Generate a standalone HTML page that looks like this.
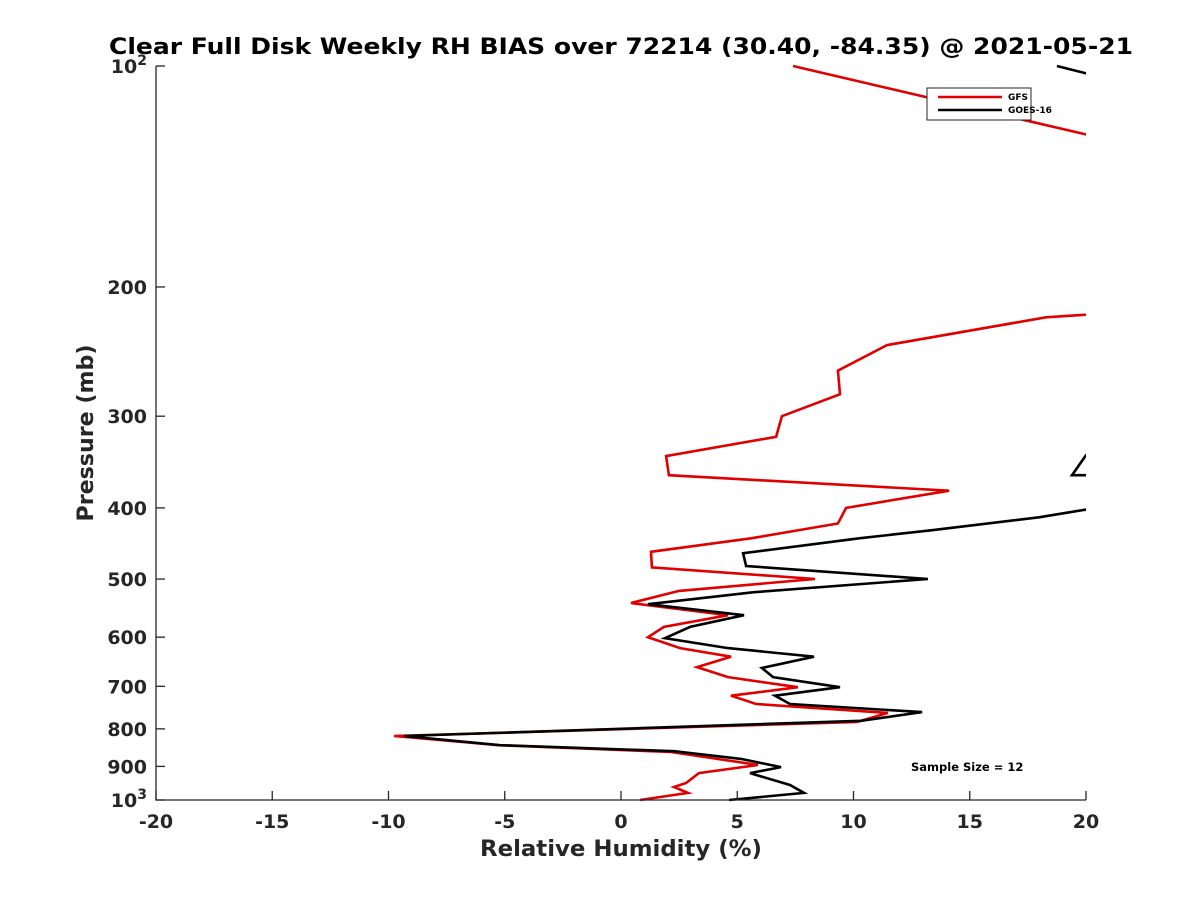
<!DOCTYPE html>
<html><head><meta charset="utf-8"><style>
body{margin:0;background:#fff;}
svg{display:block;font-family:"DejaVu Sans","Liberation Sans",sans-serif;}
</style></head><body>
<svg id="chart" width="1200" height="900" viewBox="0 0 1200 900">
<rect width="1200" height="900" fill="#fff"/>
<text x="621" y="54" text-anchor="middle" font-size="22" font-weight="bold" fill="#000" textLength="1024" lengthAdjust="spacingAndGlyphs">Clear Full Disk Weekly RH BIAS over 72214 (30.40, -84.35) @ 2021-05-21</text>
<defs><clipPath id="clip"><rect x="156" y="62" width="930" height="742"/></clipPath></defs>
<g id="series" clip-path="url(#clip)"></g>
<g id="axes"></g>
<text x="621" y="856" text-anchor="middle" font-size="22" font-weight="bold" fill="#262626" textLength="282" lengthAdjust="spacingAndGlyphs">Relative Humidity (%)</text>
<text transform="translate(93,433) rotate(-90)" text-anchor="middle" font-size="22" font-weight="bold" fill="#262626" textLength="177" lengthAdjust="spacingAndGlyphs">Pressure (mb)</text>
<g>
<rect x="927" y="88" width="104" height="32" fill="#fff" stroke="#262626" stroke-width="1"/>
<line x1="938" y1="97" x2="1002" y2="97" stroke="#e00000" stroke-width="2.5"/>
<text x="1008" y="100" font-size="9" font-weight="bold" fill="#000">GFS</text>
<line x1="938" y1="110" x2="1002" y2="110" stroke="#000" stroke-width="2.5"/>
<text x="1008" y="113" font-size="9" font-weight="bold" fill="#000">GOES-16</text>
</g>
<text x="911" y="771" font-size="11.5" font-weight="bold" fill="#000">Sample Size = 12</text>
</svg>
<script>
const gfsRH = [7.40,30,30,24,18.28,11.44,9.33,9.42,6.92,6.67,1.94,2.06,14.11,9.68,9.33,5.59,1.29,1.33,8.34,2.49,0.43,4.60,1.85,1.16,2.54,4.73,3.27,4.60,7.61,4.73,5.81,11.48,10.15,-9.76,-5.25,2.11,5.08,5.89,3.35,2.80,2.28,2.88,0.82];
const gfsP  = [100,147,205,214,220,240,260,280,300,320,340,361,379,400,420,440,459,482,500,519,539,560,581,600,621,638,659,680,702,721,740,761,783,818,842,860,888,896,919,948,960,978,1000];
const goesRH = [18.75,30,30,20,19.4,22,30,20,17.98,13.38,10.24,5.25,5.38,13.2,5.72,1.16,5.29,2.97,1.89,4.60,8.30,6.06,6.54,9.42,6.62,7.27,12.95,10.32,-9.33,-5.2,2.28,5.16,6.88,5.55,7.27,7.87,4.65];
const goesP  = [100,123,330,339,361,361,380,402,412,429,440,461,480,500,521,541,560,581,602,621,638,661,680,702,721,740,759,780,818,842,858,879,902,919,954,978,1000];
const xTicks = [-20,-15,-10,-5,0,5,10,15,20];
const yTicks = [100,200,300,400,500,600,700,800,900,1000];
const yTickLabels = ["10^2","200","300","400","500","600","700","800","900","10^3"];

const X0=156,X1=1086,Y0=66,Y1=800;
const xs = v => X0 + (v+20)/40*(X1-X0);
const ys = p => Y0 + Math.log10(p/100)*(Y1-Y0);
const NS="http://www.w3.org/2000/svg";
const series=document.getElementById('series'), axes=document.getElementById('axes');
function mk(tag,attrs,parent){const e=document.createElementNS(NS,tag);for(const k in attrs)e.setAttribute(k,attrs[k]);parent.appendChild(e);return e;}

function drawLine(rh,p,color,name){
  const pts=rh.map((v,i)=>xs(v).toFixed(1)+','+ys(p[i]).toFixed(1)).join(' ');
  const el=mk('polyline',{points:pts,fill:'none',stroke:color,'stroke-width':2.6,'stroke-linejoin':'miter'},series);
  
  
}
drawLine(gfsRH,gfsP,'#e00000','gfs-line');
drawLine(goesRH,goesP,'#000','goes16-line');

const ax=mk('path',{d:`M${X0},${Y0}V${Y1}H${X1}`,fill:'none',stroke:'#262626','stroke-width':1.3},axes);



xTicks.forEach(v=>{
  const x=xs(v);
  mk('line',{x1:x,y1:Y1,x2:x,y2:Y1-9,stroke:'#262626','stroke-width':1.3},axes);
  const t=mk('text',{x:x,y:828,'text-anchor':'middle','font-size':19,'font-weight':'bold',fill:'#262626'},axes);
  t.textContent=String(v);
  
  
});
yTicks.forEach((p,i)=>{
  const y=ys(p);
  mk('line',{x1:X0,y1:y,x2:X0+9,y2:y,stroke:'#262626','stroke-width':1.3},axes);
  const lab=yTickLabels[i];
  const t=mk('text',{x:147,y:y+7,'text-anchor':'end','font-size':19,'font-weight':'bold',fill:'#262626'},axes);
  if(lab.includes('^')){
    const [b,e]=lab.split('^');
    const s1=document.createElementNS(NS,'tspan');s1.textContent=b;t.appendChild(s1);
    const s2=document.createElementNS(NS,'tspan');s2.textContent=e;s2.setAttribute('dy','-8');s2.setAttribute('font-size','14');t.appendChild(s2);
  } else t.textContent=lab;
  
  
});
</script>
</body></html>
